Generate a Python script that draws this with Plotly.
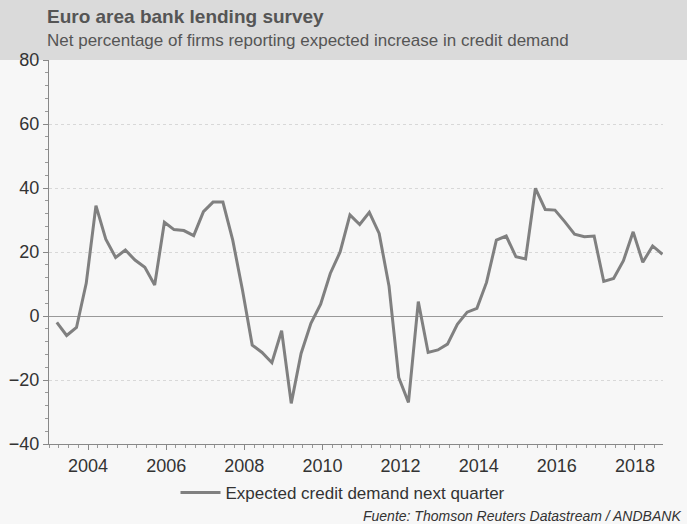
import plotly.graph_objects as go
import pandas as pd

quarters = pd.date_range("2003-02-15", periods=63, freq="3MS") + pd.Timedelta(days=14)
values = [-2.0, -6.1, -3.6, 10.2, 34.5, 24.0, 18.3, 20.6, 17.5, 15.2, 9.7, 29.3,
          27.0, 26.7, 25.1, 32.6, 35.6, 35.6, 23.7, 8.1, -9.1, -11.4, -14.6, -4.6,
          -27.3, -11.7, -2.3, 3.7, 13.3, 20.0, 31.6, 28.6, 32.4, 25.8, 9.4, -19.2,
          -27.0, 4.5, -11.4, -10.6, -8.8, -2.6, 1.2, 2.4, 10.5, 23.7, 25.0, 18.5,
          17.8, 39.9, 33.3, 33.1, 29.5, 25.6, 24.8, 25.0, 10.8, 11.7, 17.3, 26.3,
          16.8, 21.9, 19.3]
series_name = "Expected credit demand next quarter"
title = "Euro area bank lending survey"
subtitle = "Net percentage of firms reporting expected increase in credit demand"
source = "Fuente: Thomson Reuters Datastream / ANDBANK"

W, H = 687, 524
L, R, T, B = 49, 24, 60, 80
pw, ph = W - L - R, H - T - B

fig = go.Figure()
fig.add_trace(go.Scatter(x=quarters, y=values, mode="lines", name=series_name,
                         line=dict(color="#808080", width=3)))

fig.update_layout(
    width=W, height=H,
    margin=dict(l=L, r=R, t=T, b=B, autoexpand=False),
    paper_bgcolor="#f7f7f7", plot_bgcolor="#f7f7f7",
    font=dict(family="Liberation Sans, Arial, sans-serif", color="#333333"),
    showlegend=True,
    legend=dict(orientation="h", x=0.5 - 13 / pw, xanchor="center", y=-(493 - 444) / ph, yanchor="middle",
                font=dict(size=17, color="#333333"), bgcolor="rgba(0,0,0,0)", itemwidth=40),
    xaxis=dict(type="date", range=["2003-01-01", "2018-09-20"], automargin=False,
               tickformat="%Y", dtick="M24", tick0="2004-01-01",
               ticks="outside", ticklen=5, tickcolor="#888888",
               showline=True, linecolor="#888888", linewidth=1,
               showgrid=False, zeroline=False,
               tickfont=dict(size=18, color="#333333"),
               minor=dict(dtick="M3", ticks="outside", ticklen=3, tickcolor="#999999", showgrid=False)),
    yaxis=dict(range=[-40, 80], dtick=20, tick0=0, automargin=False,
               ticks="outside", ticklen=5, tickcolor="#888888",
               showline=True, linecolor="#888888", linewidth=1,
               showgrid=True, gridcolor="#d8d8d8", griddash="dot", gridwidth=1,
               zeroline=True, zerolinecolor="#999999", zerolinewidth=1,
               tickfont=dict(size=18, color="#333333"),
               minor=dict(dtick=4, ticks="outside", ticklen=3, tickcolor="#999999", showgrid=False)),
)

fig.add_shape(type="rect", xref="paper", yref="paper",
              x0=-L / pw, x1=1 + R / pw, y0=1, y1=1 + T / ph,
              fillcolor="#dadada", line=dict(width=0), layer="below")

fig.add_annotation(text="<b>" + title + "</b>", xref="paper", yref="paper",
                   x=(45 - L) / pw, y=1 + (T - 16) / ph, xanchor="left", yanchor="middle",
                   showarrow=False, font=dict(size=19, color="#555555"))
fig.add_annotation(text=subtitle, xref="paper", yref="paper",
                   x=(45 - L) / pw, y=1 + (T - 41) / ph, xanchor="left", yanchor="middle",
                   showarrow=False, font=dict(size=17, color="#555555"))
fig.add_annotation(text="<i>" + source + "</i>", xref="paper", yref="paper",
                   x=1 + (R - 4) / pw, y=-(516 - 444) / ph, xanchor="right", yanchor="middle",
                   showarrow=False, font=dict(size=14, color="#333333"))

fig.write_html("out.html")
